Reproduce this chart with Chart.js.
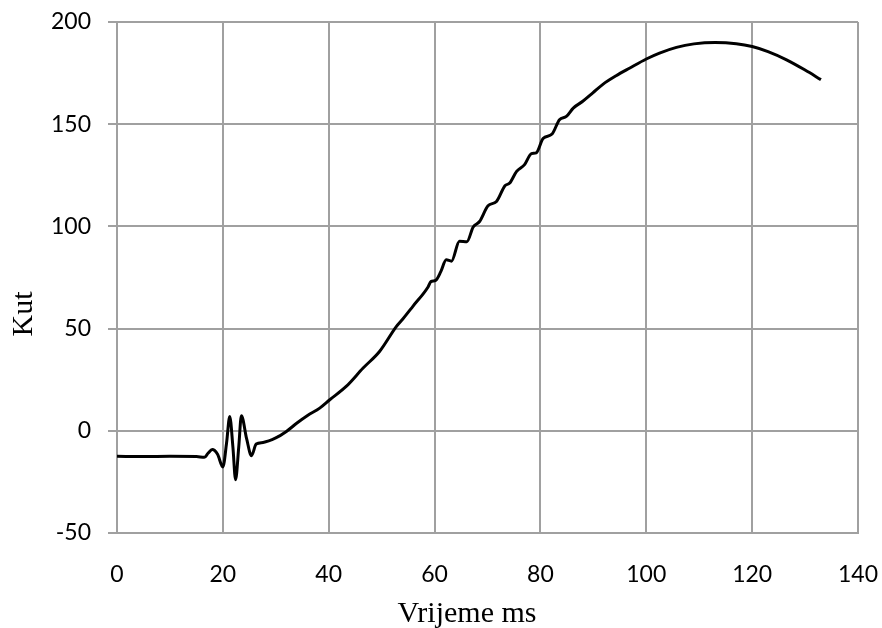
<!DOCTYPE html>
<html lang="hr">
<head>
    <meta charset="UTF-8">
    <title>Kut - Vrijeme</title>
    <script src="https://cdn.jsdelivr.net/npm/chart.js"></script>
    <style>
        body { margin: 0; background: #fff; }
        canvas { display: block; }
    </style>
</head>
<body>
    <canvas id="kutChart" width="882" height="628"></canvas>

    <script>
        // podaci očitani sa slike
        const vrijeme = [0, 5, 10, 15, 16.5, 17.2, 18, 19, 20, 20.7, 21.3, 21.9, 22.4, 23.0, 23.5, 24.5, 25.4, 26.3, 27.6,
            30, 32, 34, 36, 38.3, 40.2, 43.3, 46.5, 49.6, 52.8, 54, 55.9, 58.8, 59.3, 60.2, 61.2, 62.2, 63.2, 64.7,
            66.1, 67.3, 68.5, 70.1, 71.7, 73.3, 74.2, 75.5, 77, 78.3, 79.2, 80.5, 82.2, 83.6, 84.9, 86.2, 88, 89.9,
            91.8, 94.3, 96.9, 100, 102.5, 105.7, 109, 113, 117, 120, 123, 126.5, 130, 133];
        const kut = [-12.5, -12.6, -12.5, -12.6, -13, -11, -9.2, -11.5, -17.7, -6, 7, -8, -23.9, -8, 7.4, -4, -12.2, -6.5, -5.7,
            -3.5, -0.3, 3.8, 7.5, 11.1, 15.2, 21.7, 30.7, 38.8, 51.1, 54.7, 60.9, 70.5, 73, 73.6, 78, 83.7, 83, 92.7,
            92.5, 99.7, 102.4, 110.1, 112.2, 119.9, 121.2, 126.9, 130.2, 135.6, 136, 143, 145.2, 152.2, 153.8, 157.9, 161.2, 165.3,
            169.5, 173.7, 177.5, 181.9, 184.8, 187.6, 189.3, 190, 189.4, 188, 185.5, 181.5, 176.5, 171.8];
        const xTicks = [0, 20, 40, 60, 80, 100, 120, 140];
        const yTicks = [-50, 0, 50, 100, 150, 200];

        const gridColor = '#a0a0a0';
        const tickFont = { family: 'Lato', size: 23 };

        // naslovi osi kao u Excelu (centrirani na cijeli graf)
        const axisTitles = {
            id: 'axisTitles',
            afterDraw(chart) {
                const c = chart.ctx;
                c.save();
                c.fillStyle = '#000';
                c.font = '30px "Liberation Serif"';
                c.textAlign = 'center';
                c.textBaseline = 'alphabetic';
                c.fillText('Vrijeme ms', (chart.scales.y.left + chart.width) / 2, chart.height - 6);
                c.translate(24, chart.height / 2);
                c.rotate(-Math.PI / 2);
                c.textBaseline = 'middle';
                c.fillText('Kut', 0, 0);
                c.restore();
            }
        };

        const ctx = document.getElementById('kutChart').getContext('2d');
        new Chart(ctx, {
            type: 'line',
            data: {
                datasets: [{
                    data: vrijeme.map((t, i) => ({ x: t, y: kut[i] })),
                    borderColor: '#000',
                    borderWidth: 3,
                    pointRadius: 0,
                    cubicInterpolationMode: 'monotone',
                    fill: false
                }]
            },
            options: {
                responsive: false,
                animation: false,
                layout: { padding: { left: 52, right: 24, top: 22, bottom: 0 } },
                plugins: { legend: { display: false }, tooltip: { enabled: false } },
                scales: {
                    x: {
                        type: 'linear',
                        min: xTicks[0],
                        max: xTicks[xTicks.length - 1],
                        afterBuildTicks: s => { s.ticks = xTicks.map(v => ({ value: v })); },
                        afterFit: s => {
                            s.height = 95;
                            s.paddingLeft = 0; s.paddingRight = 0;
                        },
                        grid: { color: gridColor, lineWidth: 2, drawTicks: false },
                        border: { color: gridColor, width: 2 },
                        ticks: { color: '#000', font: tickFont, padding: 28, maxRotation: 0 }
                    },
                    y: {
                        min: yTicks[0],
                        max: yTicks[yTicks.length - 1],
                        afterBuildTicks: s => { s.ticks = yTicks.map(v => ({ value: v })); },
                        afterFit: s => {
                            s.width = 65;
                            s.paddingTop = 0; s.paddingBottom = 0;
                        },
                        grid: { color: gridColor, lineWidth: 2, tickLength: 9 },
                        border: { color: gridColor, width: 2 },
                        ticks: { color: '#000', font: tickFont, padding: 17 }
                    }
                }
            },
            plugins: [axisTitles]
        });
    </script>
</body>
</html>
